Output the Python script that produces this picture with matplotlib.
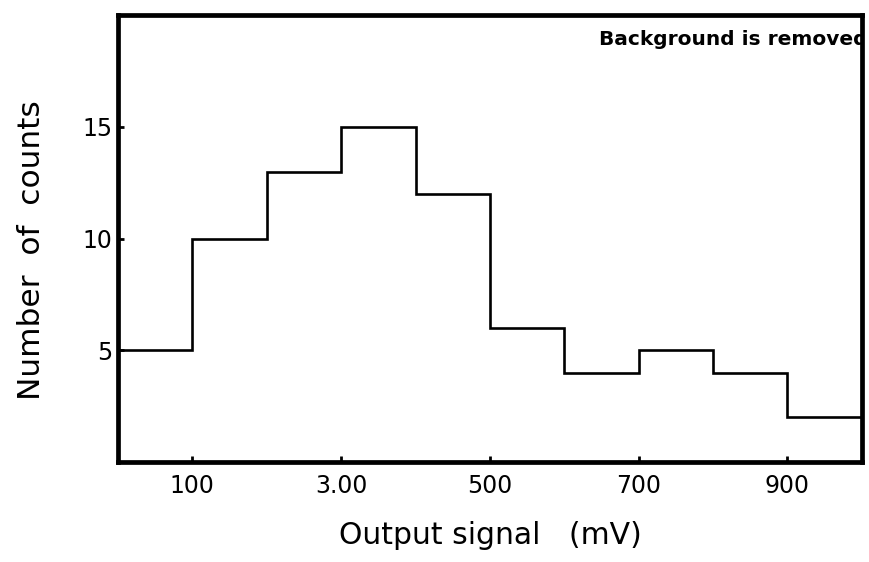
import matplotlib
matplotlib.use("Agg")
import matplotlib.pyplot as plt

# histogram of output signal, 100 mV bins
edges = [0, 100, 200, 300, 400, 500, 600, 700, 800, 900, 1000]
counts = [5, 10, 13, 15, 12, 6, 4, 5, 4, 2]

xticks = [100, 300, 500, 700, 900]
xticklabels = ["100", "3.00", "500", "700", "900"]
yticks = [5, 10, 15]

plt.rcParams['font.family'] = ['DejaVu Sans']

fig = plt.figure(figsize=(8.7, 5.62), dpi=100)
ax = fig.add_axes([0.1356, 0.178, 0.855, 0.795])

ax.stairs(counts, edges, baseline=None, color='black', linewidth=1.9)

ax.set_xlim(0, 1000)
ax.set_ylim(0, 20)
ax.set_xticks(xticks)
ax.set_xticklabels(xticklabels)
ax.set_yticks(yticks)
ax.tick_params(direction='in', length=4, width=2, labelsize=17)
ax.tick_params(axis='x', pad=9)
ax.tick_params(axis='y', pad=4)

for s in ax.spines.values():
    s.set_linewidth(3.4)

ax.set_xlabel("Output signal   (mV)", fontsize=21.5, labelpad=16)
ax.set_ylabel("Number  of  counts", fontsize=22.5)
ax.yaxis.set_label_coords(-0.097, 0.475)

# text runs into the right spine in the original
ax.text(1.008, 0.945, "Background is removed", transform=ax.transAxes,
        ha='right', va='center', fontsize=14.5, fontweight='bold', clip_on=True)

fig.savefig("out.png", dpi=100)
